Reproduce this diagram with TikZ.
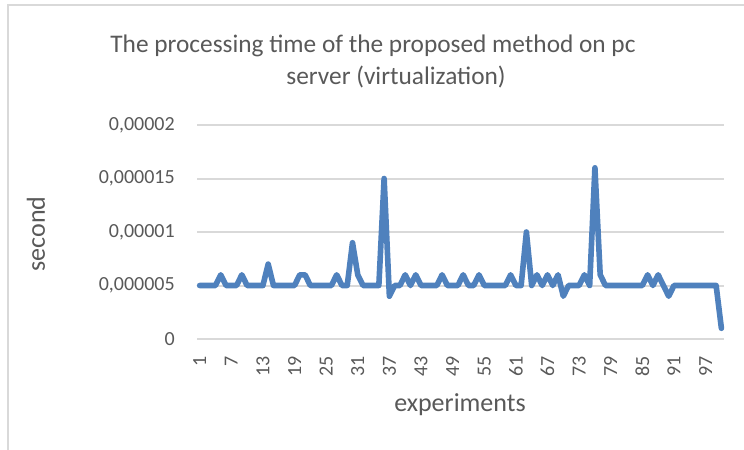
\documentclass[tikz,border=0pt]{standalone}
\usepackage{fontspec}
\setmainfont{Carlito}
\definecolor{txt}{HTML}{595959}
\definecolor{grid}{HTML}{D9D9D9}
\definecolor{series}{HTML}{4F81BD}
\begin{document}
\begin{tikzpicture}[x=0.75pt,y=-0.75pt,
  ticklab/.style={text=txt,font=\fontsize{15pt}{17pt}\selectfont,inner sep=0pt},
  axtitle/.style={text=txt,font=\fontsize{19.5pt}{22pt}\selectfont,inner sep=0pt},
  titlelab/.style={text=txt,font=\fontsize{19pt}{23.5pt}\selectfont,inner sep=0pt},
  gridline/.style={draw=grid,line width=1.5pt}]
\useasboundingbox (0,0) rectangle (744,450);
\fill[white] (0,0) rectangle (744,450);
% chart frame
\coordinate (fb) at (8,450);
\coordinate (ftl) at (8,5);
\coordinate (fr) at (744,5);
\draw[grid,line width=1pt] (fb) -- (ftl) -- (fr);
% title
\node[titlelab] (title1) at (373,46) {The processing time of the proposed method on pc};
\node[titlelab] (title2) at (396,77) {server (virtualization)};
% gridlines and y labels
\foreach \v/\lab [count=\k] in {0/0,5/{0,000005},10/{0,00001},15/{0,000015},20/{0,00002}}{
  \coordinate (gl\k) at (197,{339-10.7*\v});
  \coordinate (gr\k) at (724,{339-10.7*\v});
  \draw[gridline] (gl\k) -- (gr\k);
  \node[ticklab,anchor=east] (yl\k) at (175,{339-10.7*\v}) {\lab};
}
% x tick labels
\foreach \i in {1,7,...,97}{
  \node[ticklab,anchor=east,rotate=90] (xl\i) at ({194.4+5.27*\i},356) {\i};
}
% axis titles
\node[axtitle,rotate=90] (ytitle) at (36,234) {second};
\node[axtitle] (xtitle) at (460,405) {experiments};
% data series
\begin{scope}[shift={(194.4,339)},x=3.9525pt,y=8.025pt]
\draw[series,line width=4.2pt,line join=round,line cap=round] plot coordinates {
(1,5)(2,5)(3,5)(4,5)(5,6)(6,5)(7,5)(8,5)(9,6)(10,5)
(11,5)(12,5)(13,5)(14,7)(15,5)(16,5)(17,5)(18,5)(19,5)(20,6)
(21,6)(22,5)(23,5)(24,5)(25,5)(26,5)(27,6)(28,5)(29,5)(30,9)
(31,6)(32,5)(33,5)(34,5)(35,5)(36,15)(37,4)(38,5)(39,5)(40,6)
(41,5)(42,6)(43,5)(44,5)(45,5)(46,5)(47,6)(48,5)(49,5)(50,5)
(51,6)(52,5)(53,5)(54,6)(55,5)(56,5)(57,5)(58,5)(59,5)(60,6)
(61,5)(62,5)(63,10)(64,5)(65,6)(66,5)(67,6)(68,5)(69,6)(70,4)
(71,5)(72,5)(73,5)(74,6)(75,5)(76,16)(77,6)(78,5)(79,5)(80,5)
(81,5)(82,5)(83,5)(84,5)(85,5)(86,6)(87,5)(88,6)(89,5)(90,4)
(91,5)(92,5)(93,5)(94,5)(95,5)(96,5)(97,5)(98,5)(99,5)(100,1)};
\end{scope}
\end{tikzpicture}
\end{document}
